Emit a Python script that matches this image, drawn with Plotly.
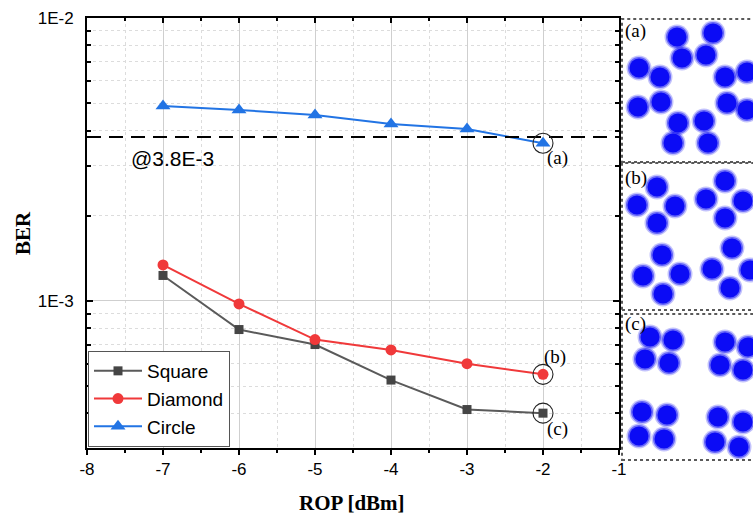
import math
import plotly.graph_objects as go

# ---------------- data ----------------
rop = [-7, -6, -5, -4, -3, -2]
ber_square = [1.23e-3, 7.92e-4, 7.01e-4, 5.25e-4, 4.13e-4, 4.01e-4]
ber_diamond = [1.34e-3, 9.76e-4, 7.30e-4, 6.71e-4, 6.00e-4, 5.50e-4]
ber_circle = [4.89e-3, 4.73e-3, 4.54e-3, 4.22e-3, 4.05e-3, 3.61e-3]
fec_limit = 3.8e-3
x_span = [-8, -1]

x_tickvals = [-8, -7, -6, -5, -4, -3, -2, -1]
x_ticktext = ["-8", "-7", "-6", "-5", "-4", "-3", "-2", "-1"]
y_tickvals = [1e-3, 1e-2]
y_ticktext = ["1E-3", "1E-2"]

# constellation cluster centres (I, Q)
const_a_i = [-1.0, 1.4, -3.2, 3.3, -3.1, 3.5, -1.4, 1.2,
             -1.5, 2.1, -5.3, 5.5, -5.4, 5.5, -1.9, 1.6]
const_a_q = [3.2, 3.5, 1.3, 1.3, -1.2, -1.3, -3.3, -3.1,
             5.3, 5.7, 2.2, 1.8, -1.7, -2.0, -5.3, -5.3]

const_b_i = [-3.6, -5.6, -1.8, -3.6, 3.2, 1.3, 5.0, 3.2,
             -3.1, -5.0, -1.3, -3.0, 3.9, 1.9, 5.7, 3.7]
const_b_q = [5.0, 3.2, 3.1, 1.4, 5.6, 3.8, 3.6, 1.9,
             -1.8, -3.9, -3.7, -5.7, -1.1, -3.2, -3.3, -5.1]

const_c_i = [-4.3, -2.0, -4.8, -2.4, 3.2, 5.5, 2.7, 5.0,
             -5.1, -2.6, -5.4, -2.9, 2.5, 5.0, 2.2, 4.6]
const_c_q = [5.3, 5.0, 3.1, 2.7, 4.8, 4.3, 2.5, 2.0,
             -2.2, -2.5, -4.6, -4.9, -2.7, -3.2, -5.2, -5.7]

panel_labels = ["(a)", "(b)", "(c)"]

# ---------------- style ----------------
SANS = "Liberation Sans, Arial, sans-serif"
SERIF = "Liberation Serif, Times New Roman, serif"
C_SQ = "#454545"
C_DI = "#f0393a"
C_CI = "#2274e4"
C_CONST = "#0b0bf5"

fig = go.Figure()

fig.add_trace(go.Scatter(x=rop, y=ber_square, name="Square", mode="lines+markers",
                         line=dict(color="#5a5a5a", width=2),
                         marker=dict(symbol="square", size=9, color=C_SQ),
                         xaxis="x", yaxis="y"))
fig.add_trace(go.Scatter(x=rop, y=ber_diamond, name="Diamond", mode="lines+markers",
                         line=dict(color=C_DI, width=2),
                         marker=dict(symbol="circle", size=11, color=C_DI),
                         xaxis="x", yaxis="y"))
fig.add_trace(go.Scatter(x=rop, y=ber_circle, name="Circle", mode="lines+markers",
                         line=dict(color=C_CI, width=2),
                         marker=dict(symbol="triangle-up", size=13, color=C_CI),
                         xaxis="x", yaxis="y"))

# FEC threshold line
fig.add_trace(go.Scatter(x=x_span, y=[fec_limit, fec_limit], mode="lines", showlegend=False,
                         line=dict(color="black", width=2, dash="14px,8px"),
                         hoverinfo="skip", xaxis="x", yaxis="y"))

# rings around the selected operating points (a), (b), (c)
sel_x = [rop[-1], rop[-1], rop[-1]]
sel_y = [ber_circle[-1], ber_diamond[-1], ber_square[-1]]
fig.add_trace(go.Scatter(x=sel_x, y=sel_y, mode="markers", showlegend=False,
                         marker=dict(symbol="circle-open", size=20, color="#222222",
                                     line=dict(width=1.1, color="#222222")),
                         hoverinfo="skip", xaxis="x", yaxis="y"))

# invisible trace to create the top tick axis
fig.add_trace(go.Scatter(x=[rop[0]], y=[ber_circle[0]], mode="markers",
                         marker=dict(opacity=0), showlegend=False, hoverinfo="skip",
                         xaxis="x5", yaxis="y"))

# constellation insets
for (ci, cq), xa, ya in [((const_a_i, const_a_q), "x2", "y2"),
                         ((const_b_i, const_b_q), "x3", "y3"),
                         ((const_c_i, const_c_q), "x4", "y4")]:
    for sz, op in [(25, 0.25), (22, 0.5), (19, 1.0)]:
        fig.add_trace(go.Scatter(x=ci, y=cq, mode="markers", showlegend=False,
                                 marker=dict(size=sz, color=C_CONST, opacity=op, line=dict(width=0)),
                                 xaxis=xa, yaxis=ya, hoverinfo="skip"))

# ---------------- layout geometry ----------------
W, H = 753, 517
ML, MR, MT, MB = 87, 0, 18, 56
PW = W - ML - MR
PH = H - MT - MB


def xd(px):
    return (px - ML) / PW


def yd(py):
    return (H - MB - py) / PH


main_x_dom = [0, xd(619)]
main_y_dom = [yd(448), 1]
panel_x_dom = [xd(622), 1]
panel_y_doms = [[yd(162), yd(19)], [yd(310), yd(163)], [yd(460), yd(314)]]
panel_x_ranges = [[-7.0, 6.1], [-7.1, 6.0], [-7.1, 6.0]]
panel_y_ranges = [[-7.2, 7.1], [-7.3, 7.4], [-7.0, 7.6]]

axis_common = dict(showline=True, linecolor="black", linewidth=2,
                   tickcolor="black", tickfont=dict(family=SANS, size=17, color="black"))

layout = dict(
    width=W, height=H, autosize=False,
    margin=dict(l=ML, r=MR, t=MT, b=MB, pad=0, autoexpand=False),
    paper_bgcolor="white", plot_bgcolor="white",
    showlegend=True,
    legend=dict(x=xd(88), y=yd(447), xanchor="left", yanchor="bottom",
                bgcolor="white", bordercolor="#555555", borderwidth=1,
                font=dict(family=SANS, size=19, color="black"),
                itemwidth=48, tracegroupgap=0),
    xaxis=dict(domain=main_x_dom, range=x_span, anchor="y",
               tickvals=x_tickvals, ticktext=x_ticktext,
               ticks="outside", ticklen=5, tickwidth=1.5, mirror=True,
               showgrid=True, gridcolor="#cfcfcf", gridwidth=1, zeroline=False,
               minor=dict(dtick=0.5, tick0=-8, ticks="outside", ticklen=3, tickwidth=1.5,
                          tickcolor="black", showgrid=True, gridcolor="#dcdcdc", griddash="dot"),
               **axis_common),
    xaxis5=dict(overlaying="x", side="top", anchor="y", range=x_span,
                tickvals=x_tickvals, ticks="inside", ticklen=5, tickwidth=1.5, tickcolor="black",
                showticklabels=False, showgrid=False, zeroline=False, showline=False,
                minor=dict(dtick=0.5, tick0=-8, ticks="inside", ticklen=3, tickwidth=1.5,
                           tickcolor="black", showgrid=False)),
    yaxis=dict(domain=main_y_dom, type="log", range=[-3.52, -2], anchor="x",
               tickvals=y_tickvals, ticktext=y_ticktext,
               ticks="inside", ticklen=6, tickwidth=1.5, mirror="ticks",
               showgrid=True, gridcolor="#cfcfcf", gridwidth=1, zeroline=False,
               ticklabelstandoff=8,
               minor=dict(dtick="D1", ticks="inside", ticklen=4, tickwidth=1.5,
                          tickcolor="black", showgrid=True, gridcolor="#dcdcdc", griddash="dot"),
               **axis_common),
    shapes=[], annotations=[],
)

for k, (xa, ya) in enumerate([("xaxis2", "yaxis2"), ("xaxis3", "yaxis3"), ("xaxis4", "yaxis4")]):
    n = k + 2
    layout[xa] = dict(domain=panel_x_dom, range=panel_x_ranges[k], visible=False, anchor=f"y{n}")
    layout[ya] = dict(domain=panel_y_doms[k], range=panel_y_ranges[k], visible=False, anchor=f"x{n}")
    layout["shapes"].append(dict(type="rect", xref=f"x{n} domain", yref=f"y{n} domain",
                                 x0=0, x1=1.02, y0=0, y1=1,
                                 line=dict(color="#5a5a5a", width=2, dash="dot")))
    layout["annotations"].append(dict(text=panel_labels[k], xref=f"x{n} domain", yref=f"y{n} domain",
                                      x=0.01, y=[0.915, 0.9, 0.93][k], xanchor="left", yanchor="middle",
                                      showarrow=False,
                                      font=dict(family=SERIF, size=19, color="black")))

layout["annotations"].append(dict(text="@3.8E-3", xref="x", yref="y",
                                  x=-6.88, y=math.log10(fec_limit), yshift=-22,
                                  xanchor="center", yanchor="middle", showarrow=False,
                                  font=dict(family=SANS, size=21, color="black")))

# labels of the selected points
marks = [(rop[-1], ber_circle[-1], "(a)", 14, -15),
         (rop[-1], ber_diamond[-1], "(b)", 12, 17),
         (rop[-1], ber_square[-1], "(c)", 14, -16)]
for xv, yv, lab, dx, dy in marks:
    layout["annotations"].append(dict(text=lab, xref="x", yref="y", x=xv, y=math.log10(yv),
                                      xshift=dx, yshift=dy, showarrow=False,
                                      xanchor="center", yanchor="middle",
                                      font=dict(family=SERIF, size=19, color="black")))

# axis titles
layout["annotations"].append(dict(text="<b>BER</b>", xref="paper", yref="paper",
                                  x=xd(23), y=yd(233), textangle=-90, showarrow=False,
                                  xanchor="center", yanchor="middle",
                                  font=dict(family=SERIF, size=21, color="black")))
layout["annotations"].append(dict(text="<b>ROP [dBm]</b>", xref="paper", yref="paper",
                                  x=xd(352), y=yd(503), showarrow=False,
                                  xanchor="center", yanchor="middle",
                                  font=dict(family=SERIF, size=21, color="black")))

fig.update_layout(**layout)
fig.write_html("out.html")
